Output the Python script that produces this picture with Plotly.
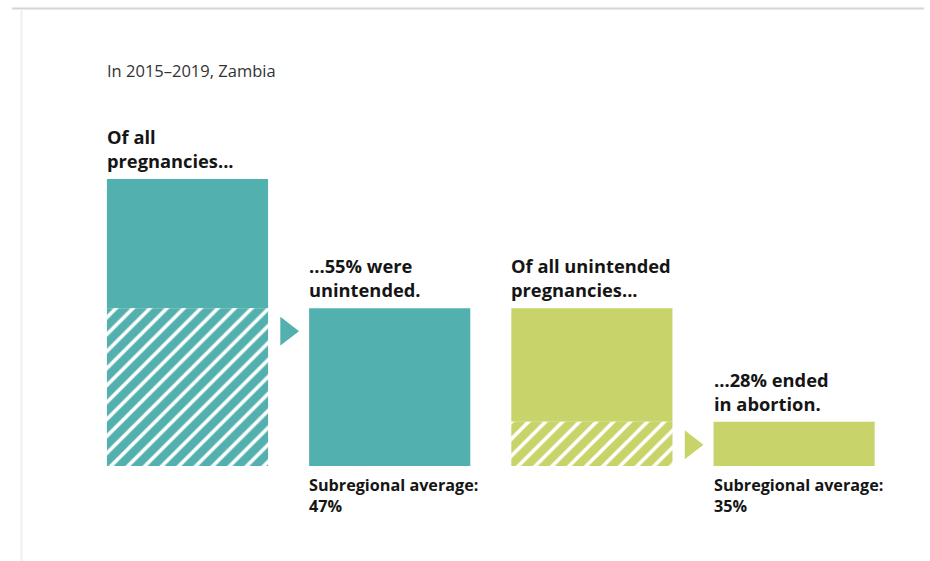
import plotly.graph_objects as go

# ---- data ----
steps = ["All pregnancies", "Unintended", "All unintended", "Ended in abortion"]
pct_unintended = 55          # % of all pregnancies that were unintended
pct_abortion = 28            # % of unintended pregnancies ended in abortion
subregional_unintended = 47
subregional_abortion = 35
title_text = "In 2015–2019, Zambia"
headings = ["Of all<br>pregnancies...", "...55% were<br>unintended.",
            "Of all unintended<br>pregnancies...", "...28% ended<br>in abortion."]
footnotes = ["", "Subregional average:<br>47%", "", "Subregional average:<br>35%"]

TEAL = "#52B0AF"
GREEN = "#C8D46A"
TXT = "#151515"
FONT = "Open Sans"

total = 100
abort_share = pct_unintended * pct_abortion / 100.0   # height in all-pregnancy units
xs = list(range(len(steps)))
W = 0.797

fig = go.Figure()

# solid parts
fig.add_trace(go.Bar(
    x=[xs[0], xs[1]], y=[total - pct_unintended, pct_unintended],
    base=[pct_unintended, 0], width=W, marker=dict(color=TEAL, line=dict(width=0)),
    hoverinfo="skip", showlegend=False))
fig.add_trace(go.Bar(
    x=[xs[2], xs[3]], y=[pct_unintended - abort_share, abort_share],
    base=[abort_share, 0], width=W, marker=dict(color=GREEN, line=dict(width=0)),
    hoverinfo="skip", showlegend=False))
# hatched parts
fig.add_trace(go.Bar(
    x=[xs[0]], y=[pct_unintended], base=[0], width=W,
    marker=dict(color=TEAL, line=dict(width=0),
                pattern=dict(shape="/", fgcolor="white", bgcolor=TEAL, size=12,
                             solidity=0.3, fgopacity=1)),
    hoverinfo="skip", showlegend=False))
fig.add_trace(go.Bar(
    x=[xs[2]], y=[abort_share], base=[0], width=W,
    marker=dict(color=GREEN, line=dict(width=0),
                pattern=dict(shape="/", fgcolor="white", bgcolor=GREEN, size=12,
                             solidity=0.3, fgopacity=1)),
    hoverinfo="skip", showlegend=False))

# arrows between steps
PX = 2.87  # px per unit
arrow_off = 23 / PX
fig.add_trace(go.Scatter(
    x=[0.49, 2.49], y=[pct_unintended - arrow_off, abort_share - arrow_off],
    mode="markers", marker=dict(symbol="triangle-right", size=25, color=[TEAL, GREEN]),
    hoverinfo="skip", showlegend=False))

tops = [total, pct_unintended, pct_unintended, abort_share]
annotations = []
for i in xs:
    annotations.append(dict(
        x=xs[i] - W / 2, y=tops[i], xref="x", yref="y", xanchor="left", yanchor="bottom",
        text=headings[i], showarrow=False, align="left", yshift=4, xshift=-2,
        font=dict(family=FONT, size=18.3, color=TXT, weight="bold")))
    if footnotes[i]:
        annotations.append(dict(
            x=xs[i] - W / 2, y=0, xref="x", yref="y", xanchor="left", yanchor="top",
            text=footnotes[i], showarrow=False, align="left", yshift=-6, xshift=-2,
            font=dict(family=FONT, size=16.2, color=TXT, weight="bold")))
annotations.append(dict(
    x=xs[0] - W / 2, y=1 - 57 / 561, xref="x", yref="paper", xanchor="left", yanchor="top",
    text=title_text, showarrow=False, xshift=-2,
    font=dict(family=FONT, size=16.5, color="#333333")))

fig.update_layout(
    width=930, height=561, margin=dict(l=0, r=0, t=0, b=0),
    paper_bgcolor="white", plot_bgcolor="white", barmode="overlay",
    xaxis=dict(range=[-187.5 / 202.2, (930 - 187.5) / 202.2], visible=False, fixedrange=True),
    yaxis=dict(range=[-(561 - 466) / PX, 466 / PX], visible=False, fixedrange=True),
    annotations=annotations,
    shapes=[
        dict(type="line", xref="paper", yref="paper", x0=12 / 930, x1=924 / 930,
             y0=1 - 8.5 / 561, y1=1 - 8.5 / 561, line=dict(color="#d4d4d4", width=2)),
        dict(type="line", xref="paper", yref="paper", x0=21.5 / 930, x1=21.5 / 930,
             y0=0, y1=1 - 9 / 561, line=dict(color="#f0f0f0", width=2)),
    ],
)

fig.write_html("out.html", config={"displayModeBar": False},
               post_script="document.body.style.margin='0';document.body.style.overflow='hidden';")
